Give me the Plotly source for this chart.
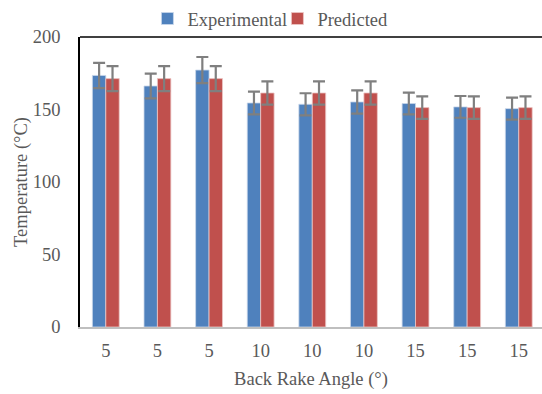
import plotly.graph_objects as go

angle_labels = ["5", "5", "5", "10", "10", "10", "15", "15", "15"]
experimental = [173.5, 166.2, 177.2, 154.5, 153.6, 155.2, 154.1, 151.8, 150.6]
experimental_err = [8.7, 8.5, 9.0, 7.8, 7.6, 8.0, 7.5, 7.5, 7.6]
predicted = [171.3, 171.3, 171.3, 161.4, 161.4, 161.4, 151.3, 151.3, 151.3]
predicted_err = [8.6, 8.6, 8.6, 8.0, 8.0, 8.0, 7.8, 7.8, 7.8]

x_pos = list(range(len(angle_labels)))
font_family = "Liberation Serif, Times New Roman, serif"
fs = 18.5
err_style = dict(type="data", visible=True, color="#7f7f7f", thickness=2.2, width=6)

fig = go.Figure()
fig.add_trace(go.Bar(
    x=x_pos, y=experimental, name="Experimental",
    marker=dict(color="#4F81BD", line=dict(color="#c9d7ea", width=0.8)),
    error_y=dict(array=experimental_err, **err_style),
))
fig.add_trace(go.Bar(
    x=x_pos, y=predicted, name="Predicted",
    marker=dict(color="#C0504D", line=dict(color="#ecc6c5", width=0.8)),
    error_y=dict(array=predicted_err, **err_style),
))

fig.update_layout(
    width=542, height=394,
    margin=dict(l=80, r=0, t=36.5, b=66.5, autoexpand=False),
    paper_bgcolor="white", plot_bgcolor="white",
    barmode="group", bargap=0.48, bargroupgap=0,
    font=dict(family=font_family, size=fs, color="#595959"),
    legend=dict(orientation="h", xref="container", x=0.272, xanchor="left",
                yref="container", y=1.0, yanchor="top",
                font=dict(size=fs, color="#595959"),
                itemwidth=30, entrywidth=85, tracegroupgap=0, traceorder="normal",
                bgcolor="rgba(0,0,0,0)"),
    xaxis=dict(
        range=[-0.5, 8.45], tickmode="array", tickvals=x_pos, ticktext=angle_labels,
        showgrid=False, zeroline=False, showline=True, linecolor="#bfbfbf", linewidth=1.5,
        ticks="", ticklabelstandoff=6,
        title=dict(text="Back Rake Angle (°)", font=dict(size=fs, color="#595959"), standoff=12),
    ),
    yaxis=dict(
        range=[0, 200], tickvals=[0, 50, 100, 150, 200],
        showgrid=False, zeroline=False, showline=True, linecolor="black", linewidth=1.5,
        ticks="", ticklabelstandoff=14,
        title=dict(text="Temperature (°C)", font=dict(size=fs, color="#595959"), standoff=0),
    ),
    shapes=[dict(type="line", xref="paper", yref="paper", x0=0, x1=1, y0=1, y1=1,
                 line=dict(color="black", width=1.5))],
)

fig.write_html("out.html", config={"displayModeBar": False},
               post_script="document.body.style.margin='0';document.body.style.overflow='hidden';")
